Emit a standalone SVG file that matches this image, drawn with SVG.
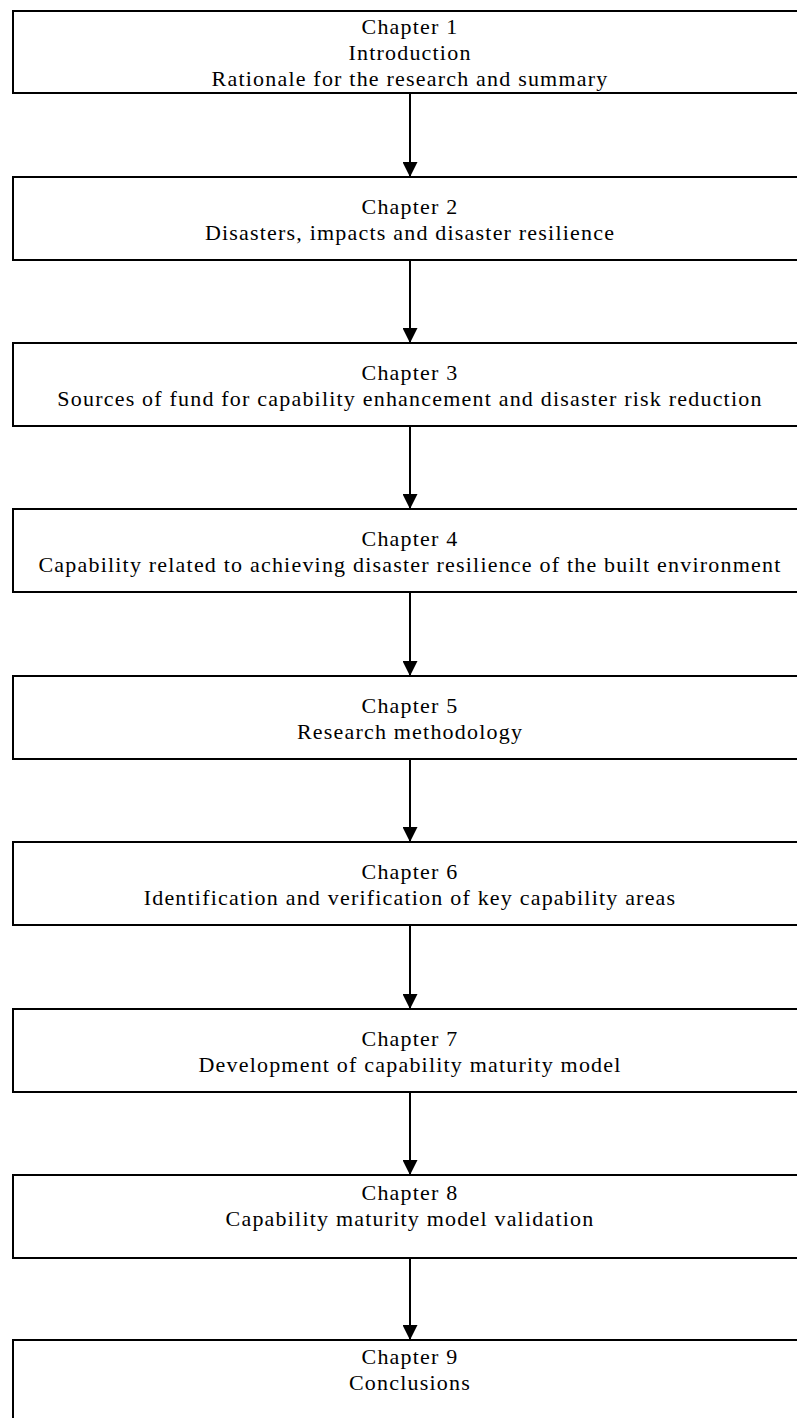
<svg xmlns="http://www.w3.org/2000/svg" width="797" height="1418" viewBox="0 0 797 1418">
  <style>
    .box { fill: #ffffff; stroke: #000000; stroke-width: 2; }
    .lbl { font-family: "Liberation Serif", "Times New Roman", serif; font-size: 22px; letter-spacing: 1.2px; fill: #000000; text-anchor: middle; }
    .link { stroke: #000000; stroke-width: 2; fill: none; marker-end: url(#head); }
  </style>
  <defs>
    <marker id="head" markerUnits="userSpaceOnUse" markerWidth="15" markerHeight="15" refX="15" refY="7.5" orient="auto" viewBox="0 0 15 15">
      <path d="M0,0 L15,7.5 L0,15 Z" fill="#000000"/>
    </marker>
  </defs>
  <rect width="797" height="1418" fill="#ffffff"/>

  <!-- chapter boxes; the right edges run past the page -->
  <g id="ch1">
    <rect class="box" x="13" y="11" width="800" height="82"/>
    <text class="lbl" x="410" y="34">Chapter 1</text>
    <text class="lbl" x="410" y="60">Introduction</text>
    <text class="lbl" x="410" y="86">Rationale for the research and summary</text>
  </g>
  <g id="ch2">
    <rect class="box" x="13" y="177" width="800" height="83"/>
    <text class="lbl" x="410" y="214">Chapter 2</text>
    <text class="lbl" x="410" y="240">Disasters, impacts and disaster resilience</text>
  </g>
  <g id="ch3">
    <rect class="box" x="13" y="343" width="800" height="83"/>
    <text class="lbl" x="410" y="380">Chapter 3</text>
    <text class="lbl" x="410" y="406">Sources of fund for capability enhancement and disaster risk reduction</text>
  </g>
  <g id="ch4">
    <rect class="box" x="13" y="509" width="800" height="83"/>
    <text class="lbl" x="410" y="546">Chapter 4</text>
    <text class="lbl" x="410" y="572">Capability related to achieving disaster resilience of the built environment</text>
  </g>
  <g id="ch5">
    <rect class="box" x="13" y="676" width="800" height="83"/>
    <text class="lbl" x="410" y="713">Chapter 5</text>
    <text class="lbl" x="410" y="739">Research methodology</text>
  </g>
  <g id="ch6">
    <rect class="box" x="13" y="842" width="800" height="83"/>
    <text class="lbl" x="410" y="879">Chapter 6</text>
    <text class="lbl" x="410" y="905">Identification and verification of key capability areas</text>
  </g>
  <g id="ch7">
    <rect class="box" x="13" y="1009" width="800" height="83"/>
    <text class="lbl" x="410" y="1046">Chapter 7</text>
    <text class="lbl" x="410" y="1072">Development of capability maturity model</text>
  </g>
  <g id="ch8">
    <rect class="box" x="13" y="1175" width="800" height="83"/>
    <text class="lbl" x="410" y="1200">Chapter 8</text>
    <text class="lbl" x="410" y="1226">Capability maturity model validation</text>
  </g>
  <g id="ch9">
    <rect class="box" x="13" y="1340" width="800" height="100"/>
    <text class="lbl" x="410" y="1364">Chapter 9</text>
    <text class="lbl" x="410" y="1390">Conclusions</text>
  </g>

  <!-- connectors -->
  <g id="connectors">
    <line class="link" x1="410" y1="93" x2="410" y2="177"/>
    <line class="link" x1="410" y1="260" x2="410" y2="343"/>
    <line class="link" x1="410" y1="426" x2="410" y2="509"/>
    <line class="link" x1="410" y1="592" x2="410" y2="676"/>
    <line class="link" x1="410" y1="759" x2="410" y2="842"/>
    <line class="link" x1="410" y1="925" x2="410" y2="1009"/>
    <line class="link" x1="410" y1="1092" x2="410" y2="1175"/>
    <line class="link" x1="410" y1="1258" x2="410" y2="1340"/>
  </g>
</svg>
